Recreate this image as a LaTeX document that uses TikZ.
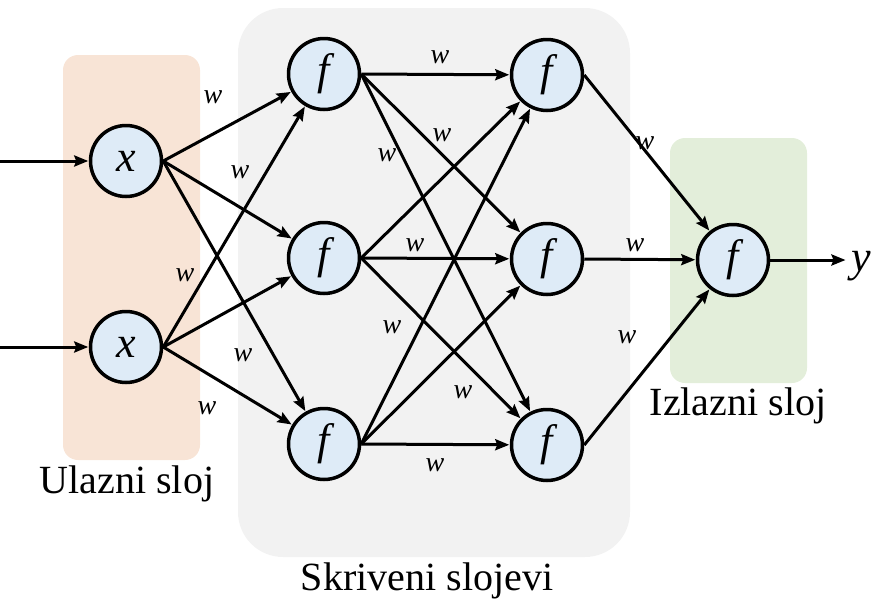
\documentclass[tikz,border=0pt]{standalone}
\usepackage{fontspec}
\setmainfont{Liberation Serif}
\usetikzlibrary{arrows.meta}
\definecolor{nodeblue}{HTML}{DEEBF7}
\definecolor{inorange}{HTML}{F8E4D6}
\definecolor{hidgray}{HTML}{F2F2F2}
\definecolor{outgreen}{HTML}{E3EEDA}
\begin{document}
\begin{tikzpicture}[x=1pt,y=-1pt,
  neuron/.style={circle,draw,line width=3.5pt,fill=nodeblue,minimum size=71pt,inner sep=0pt,font=\fontsize{44}{48}\selectfont\itshape},
  conn/.style={line width=3pt,shorten >=0.5pt,-{Stealth[length=14pt,width=11pt,inset=2pt]}},
  wlab/.style={font=\fontsize{28}{30}\selectfont\itshape,inner sep=0pt},
  layerlab/.style={font=\fontsize{40}{48}\selectfont,anchor=base,inner sep=0pt}]
\useasboundingbox (0,0) rectangle (873,600);
% panels
\fill[inorange,rounded corners=15pt] (63,55) rectangle (200,460);
\fill[hidgray,rounded corners=45pt] (238,8) rectangle (630,557);
\fill[outgreen,rounded corners=15pt] (670,138) rectangle (807,383);
% layer labels
\node[layerlab] (lin) at (127,493) {Ulazni sloj};
\node[layerlab] (lhid) at (427,590) {Skriveni slojevi};
\node[layerlab] (lout) at (738,415) {Izlazni sloj};
% neurons
\node[neuron] (x1) at (126,161) {x};
\node[neuron] (x2) at (126,347) {x};
\node[neuron] (ha) at (324,74) {f};
\node[neuron] (hb) at (324,258) {f};
\node[neuron] (hc) at (324,444) {f};
\node[neuron] (ga) at (547,75) {f};
\node[neuron] (gb) at (547,259) {f};
\node[neuron] (gc) at (547,445) {f};
\node[neuron] (out) at (733,260) {f};
\node[anchor=west,inner sep=5pt,font=\fontsize{44}{48}\selectfont\itshape] (ylab) at (846,266) {y};
\coordinate (in1) at (0,161);
\coordinate (in2) at (0,347);
% connectors
\draw[conn] (in1) -- (x1);
\draw[conn] (in2) -- (x2);
\foreach \a in {x1,x2}
  \foreach \b in {ha,hb,hc}
    \draw[conn] (\a.east) -- (\b);
\foreach \a in {ha,hb,hc}
  \foreach \b in {ga,gb,gc}
    \draw[conn] (\a.east) -- (\b);
\foreach \a in {ga,gb,gc}
  \draw[conn] (\a.east) -- (out);
\draw[conn] (out.east) -- (out.east -| ylab.west);
% weight labels
\node[wlab] (w1) at (213,97) {w};
\node[wlab] (w2) at (240,172) {w};
\node[wlab] (w3) at (185,275) {w};
\node[wlab] (w4) at (243,355) {w};
\node[wlab] (w5) at (207,408) {w};
\node[wlab] (w6) at (440,57) {w};
\node[wlab] (w7) at (442,135) {w};
\node[wlab] (w8) at (387,155) {w};
\node[wlab] (w9) at (415,245) {w};
\node[wlab] (w10) at (392,327) {w};
\node[wlab] (w11) at (463,392) {w};
\node[wlab] (w12) at (435,465) {w};
\node[wlab] (w13) at (645,143) {w};
\node[wlab] (w14) at (635,245) {w};
\node[wlab] (w15) at (627,337) {w};
\end{tikzpicture}
\end{document}
